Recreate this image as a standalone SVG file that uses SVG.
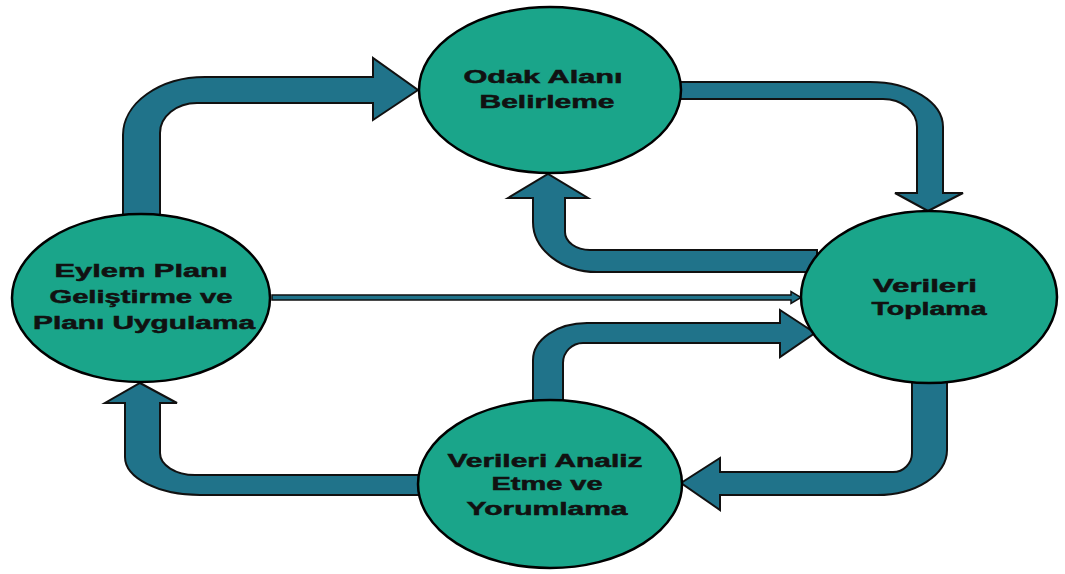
<svg xmlns="http://www.w3.org/2000/svg" width="1065" height="574" viewBox="0 0 1065 574">
<style>
.arr{fill:#20738a;stroke:#111;stroke-width:2;stroke-linejoin:miter}
.thin{fill:#20738a;stroke:#111;stroke-width:1.5}
.node{fill:#1aa58a;stroke:#000;stroke-width:2.5}
.lbl{font-family:"Liberation Sans",Arial,sans-serif;font-weight:bold;font-size:17.5px;fill:#111;stroke:#111;stroke-width:0.5;text-anchor:middle}
</style>
<rect width="1065" height="574" fill="#fff"/>
<g id="connectors">
<path class="arr" d="M123,225 L123,135 A82,58 0 0 1 205,77 L373,77 L373,58 L418,90 L373,120 L373,103 L197,103 A37,30 0 0 0 160,133 L160,225 Z"/>
<path class="arr" d="M660,82 L870,82 A73,45 0 0 1 943,127 L943,193 L963,193 L928,211 L895,193 L917,193 L917,127 A34,28 0 0 0 883,99 L660,99 Z"/>
<path class="arr" d="M817,250 L590,250 A25,18 0 0 1 565,232 L565,198 L588,198 L548,174 L508,198 L533,198 L533,222 A64,50 0 0 0 597,272 L817,272 Z"/>
<path class="thin" d="M272,295 L791,295 L791,291.5 L801,297.5 L791,303.5 L791,300 L272,300 Z"/>
<path class="arr" d="M533,412 L533,360 A54,37 0 0 1 587,323 L780,323 L780,310 L815,333 L780,357 L780,343 L583,343 A20,20 0 0 0 563,363 L563,412 Z"/>
<path class="arr" d="M430,475 L195,475 A35,22 0 0 1 160,453 L160,403 L177,403 L140,383 L105,403 L125,403 L125,457 A75,38 0 0 0 200,495 L430,495 Z"/>
<path class="arr" d="M912,372 L912,453 A19,19 0 0 1 893,472 L720,472 L720,458 L681,483 L720,510 L720,495 L877,495 A70,45 0 0 0 947,450 L947,372 Z"/>
</g>
<g id="odak">
<ellipse class="node" cx="550" cy="90" rx="131" ry="83"/>
<text class="lbl" x="543" y="83" textLength="159" lengthAdjust="spacingAndGlyphs">Odak Alanı</text>
<text class="lbl" x="547" y="108" textLength="135" lengthAdjust="spacingAndGlyphs">Belirleme</text>
</g>
<g id="toplama">
<ellipse class="node" cx="929" cy="297" rx="128" ry="86"/>
<text class="lbl" x="925" y="292" textLength="104" lengthAdjust="spacingAndGlyphs">Verileri</text>
<text class="lbl" x="929" y="315" textLength="115" lengthAdjust="spacingAndGlyphs">Toplama</text>
</g>
<g id="eylem">
<ellipse class="node" cx="141" cy="298" rx="129" ry="84"/>
<text class="lbl" x="141" y="277" textLength="173" lengthAdjust="spacingAndGlyphs">Eylem Planı</text>
<text class="lbl" x="141" y="303" textLength="183" lengthAdjust="spacingAndGlyphs">Geliştirme ve</text>
<text class="lbl" x="144" y="329" textLength="222" lengthAdjust="spacingAndGlyphs">Planı Uygulama</text>
</g>
<g id="analiz">
<ellipse class="node" cx="550" cy="484" rx="132" ry="84"/>
<text class="lbl" x="545" y="467" textLength="195" lengthAdjust="spacingAndGlyphs">Verileri Analiz</text>
<text class="lbl" x="547" y="490" textLength="111" lengthAdjust="spacingAndGlyphs">Etme ve</text>
<text class="lbl" x="547" y="515" textLength="161" lengthAdjust="spacingAndGlyphs">Yorumlama</text>
</g>
</svg>
